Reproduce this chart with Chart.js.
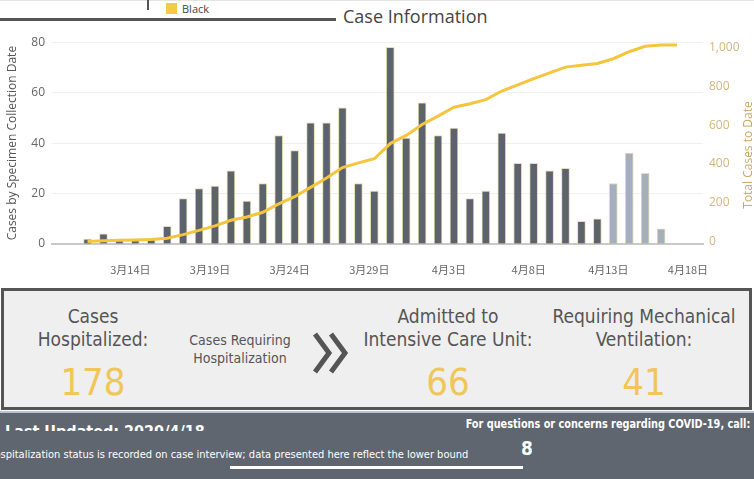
<!DOCTYPE html>
<html>
<head>
<meta charset="utf-8">
<title>Case Information</title>
<script src="https://cdn.jsdelivr.net/npm/chart.js"></script>
<style>
  body { margin: 0; width: 754px; height: 479px; overflow: hidden; background: #fff; position: relative; font-family: 'Open Sans', sans-serif; }
  .abs { position: absolute; }
  .narrow { font-family: 'DejaVu Sans Condensed', sans-serif; }
  .stat { position: absolute; text-align: center; color: #555; font-size: 19px; line-height: 23px; white-space: nowrap; }
  .num { position: absolute; text-align: center; color: #f0c65b; font-size: 38px; line-height: 42px; }
</style>
</head>
<body>
<script>
// bar dates (2020) and daily counts
const barDates = ['3/11','3/12','3/13','3/14','3/15','3/16','3/17','3/18','3/19','3/20',
  '3/21','3/22','3/23','3/24','3/25','3/26','3/27','3/28','3/29','3/30','3/31',
  '4/1','4/2','4/3','4/4','4/5','4/6','4/7','4/8','4/9','4/10','4/11','4/12',
  '4/13','4/14','4/15','4/16'];
const dailyCases = [2,4,2,2,2,7,18,22,23,29,17,24,43,37,48,48,54,24,21,78,42,
  56,43,46,18,21,44,32,32,29,30,9,10,24,36,28,6];
// last 4 days are still incomplete (lighter bars)
const pendingDates = ['4/13','4/14','4/15','4/16'];

// running total line
const totalDates = ['3/11','3/12','3/13','3/14','3/15','3/16','3/17','3/18','3/19','3/20',
  '3/21','3/22','3/23','3/24','3/25','3/26','3/27','3/28','3/29','3/30','3/31',
  '4/1','4/2','4/3','4/4','4/5','4/6','4/7','4/8','4/9','4/10','4/11','4/12',
  '4/13','4/14','4/15','4/16','4/17'];
const totalCases = [2,6,8,10,12,19,37,59,82,111,128,152,195,232,280,328,382,406,427,505,547,
  603,646,692,710,731,775,807,839,868,898,907,917,941,977,1005,1011,1011];

const tickDates = ['3/14','3/19','3/24','3/29','4/3','4/8','4/13','4/18'];
const leftTicks = [0, 20, 40, 60, 80];
const rightTicks = [0, 200, 400, 600, 800, 1000];
</script>

<!-- header -->
<div class="abs" style="left:0;top:0;width:754px;height:1px;background:#e4e4e4"></div>
<div class="abs" style="left:147px;top:0;width:2px;height:10px;background:#555"></div>
<div class="abs" style="left:166px;top:3px;width:11px;height:11px;background:#f7c948"></div>
<div class="abs" style="left:182px;top:1px;font-size:11px;line-height:16px;color:#444">Black</div>
<div class="abs" style="left:0;top:18px;width:336px;height:3px;background:#555"></div>
<div class="abs" style="left:343px;top:3px;font-size:18px;line-height:26px;color:#444">Case Information</div>

<!-- chart -->
<div class="abs" style="left:0;top:28px;width:754px;height:257px">
  <canvas id="myChart"></canvas>
</div>
<div class="abs" style="left:748px;top:155px;width:0;height:0">
  <div style="position:absolute;left:-100px;top:-9px;width:200px;text-align:center;font-size:12px;line-height:18px;color:#c9a964;transform:rotate(-90deg)">Total Cases to Date</div>
</div>

<!-- stats box -->
<div class="abs" style="left:1px;top:288px;width:751px;height:122px;box-sizing:border-box;border:3px solid #555;background:#efefef"></div>
<div class="stat narrow" style="left:13px;top:305px;width:160px">Cases<br>Hospitalized:</div>
<div class="num narrow" style="left:13px;top:361px;width:160px">178</div>
<div class="stat narrow" style="left:170px;top:331px;width:140px;font-size:14px;line-height:18px">Cases Requiring<br>Hospitalization</div>
<svg class="abs" style="left:310px;top:330px" width="42" height="46">
  <polyline points="5,4 19,23 5,42" fill="none" stroke="#555" stroke-width="5"/>
  <polyline points="21,4 35,23 21,42" fill="none" stroke="#555" stroke-width="5"/>
</svg>
<div class="stat narrow" style="left:348px;top:305px;width:200px">Admitted to<br>Intensive Care Unit:</div>
<div class="num narrow" style="left:348px;top:361px;width:200px">66</div>
<div class="stat narrow" style="left:544px;top:305px;width:200px">Requiring Mechanical<br>Ventilation:</div>
<div class="num narrow" style="left:544px;top:361px;width:200px">41</div>

<!-- footer -->
<div class="abs" style="left:0;top:411px;width:754px;height:2px;background:#b9c3cf"></div>
<div class="abs" style="left:0;top:413px;width:754px;height:66px;background:#5f6670"></div>
<div class="abs" style="left:5px;top:425px;width:260px;height:6px;overflow:hidden">
  <div class="narrow" style="position:absolute;left:0;top:-3px;color:#fff;font-size:16px;line-height:20px;font-weight:bold;white-space:nowrap">Last Updated: 2020/4/18</div>
</div>
<div class="abs narrow" style="right:4px;top:416px;height:15px;overflow:hidden;color:#fff;font-size:12px;line-height:17px;font-weight:bold;transform:scaleX(0.9);transform-origin:right center;white-space:nowrap">For questions or concerns regarding COVID-19, call:</div>
<div class="abs narrow" style="left:521px;top:437px;width:11px;overflow:hidden;color:#fff;font-size:19px;line-height:22px;font-weight:bold">8</div>
<div class="abs narrow" style="left:-13px;top:447px;color:#fff;font-size:11px;line-height:16px;white-space:nowrap">Hospitalization status is recorded on case interview; data presented here reflect the lower bound</div>
<div class="abs" style="left:230px;top:466px;width:293px;height:3px;background:#fff"></div>

<script>
  function toDay(s) {
    const [m, d] = s.split('/').map(Number);
    return m === 3 ? d : 31 + d;
  }
  function dayLabel(v) {
    return v <= 31 ? '3月' + v + '日' : '4月' + (v - 31) + '日';
  }

  const barPoints = barDates.map((d, i) => ({ x: toDay(d), y: dailyCases[i] }));
  const barColors = barDates.map(d => pendingDates.includes(d) ? '#a4afbd' : '#5c636c');
  const linePoints = totalDates.map((d, i) => ({ x: toDay(d), y: totalCases[i] }));

  const ctx = document.getElementById('myChart').getContext('2d');
  const myChart = new Chart(ctx, {
    type: 'bar',
    data: {
      datasets: [{
        type: 'line',
        data: linePoints,
        yAxisID: 'y2',
        borderColor: '#f5c53e',
        borderWidth: 3,
        pointRadius: 0,
        tension: 0,
        order: 0
      }, {
        data: barPoints,
        yAxisID: 'y',
        backgroundColor: barColors,
        borderColor: 'rgba(214,190,120,0.55)',
        borderWidth: 1,
        borderSkipped: 'bottom',
        barThickness: 8,
        order: 1
      }]
    },
    options: {
      responsive: true,
      maintainAspectRatio: false,
      animation: false,
      layout: { padding: { top: 10, left: 0, right: 0, bottom: 0 } },
      plugins: { legend: { display: false }, tooltip: { enabled: false } },
      scales: {
        x: {
          type: 'linear',
          offset: false,
          min: 8.77,
          max: 49.63,
          grid: { display: false, drawTicks: false, offset: false },
          border: { display: true, color: '#c8c8c8', width: 2 },
          afterBuildTicks: s => { s.ticks = tickDates.map(d => ({ value: toDay(d) })); },
          afterFit: s => { s.height = 41; },
          ticks: {
            callback: v => dayLabel(v),
            color: '#666',
            padding: 19,
            labelOffset: -5,
            maxRotation: 0,
            autoSkip: false,
            font: { family: "'Noto Sans CJK SC', sans-serif", size: 11 }
          }
        },
        y: {
          position: 'left',
          min: 0,
          max: 80,
          afterBuildTicks: s => { s.ticks = leftTicks.map(v => ({ value: v })); },
          afterFit: s => { s.width = 52; },
          grid: { color: '#f0f0f0', drawTicks: false },
          border: { display: false },
          ticks: { color: '#666', padding: 7, font: { family: "'Open Sans', sans-serif", size: 12 } },
          title: {
            display: true,
            text: 'Cases by Specimen Collection Date',
            color: '#555',
            padding: { top: 5, bottom: 0 },
            font: { family: "'Open Sans', sans-serif", size: 12 }
          }
        },
        y2: {
          position: 'right',
          min: -11,
          max: 1026,
          afterBuildTicks: s => { s.ticks = rightTicks.map(v => ({ value: v })); },
          afterFit: s => { s.width = 51; },
          grid: { display: false, drawTicks: false },
          border: { display: false },
          ticks: { color: '#d2b77c', padding: 6, font: { family: "'Open Sans', sans-serif", size: 12 } }
        }
      }
    }
  });
</script>
</body>
</html>
